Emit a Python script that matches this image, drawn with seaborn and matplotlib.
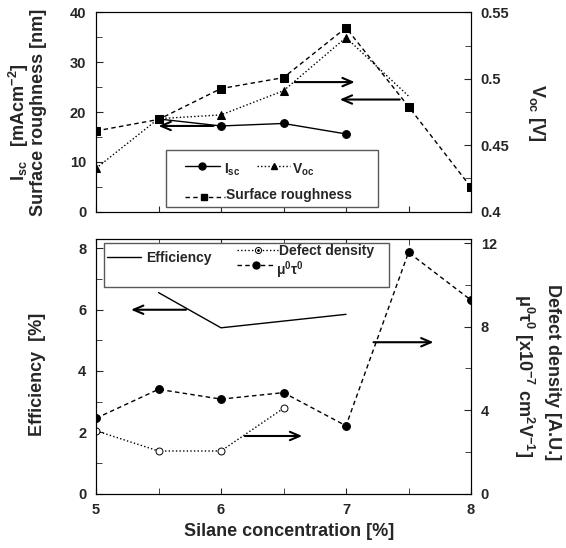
import numpy as np
import pandas as pd
import matplotlib
matplotlib.use("Agg")
import matplotlib.pyplot as plt
from matplotlib.lines import Line2D
from matplotlib.patches import Rectangle
from matplotlib.ticker import MultipleLocator
import seaborn as sns

# ---------------- data ----------------
silane = [5.0, 5.5, 6.0, 6.5, 7.0, 7.5, 8.0]

isc_x = [5.5, 6.0, 6.5, 7.0]
isc = [18.6, 17.2, 17.7, 15.6]                      # mA cm^-2

voc_x = [5.0, 5.5, 6.0, 6.5, 7.0, 7.5]
voc = [0.4326, 0.470, 0.4728, 0.491, 0.531, 0.487]  # V

rough_x = silane
roughness = [16.2, 18.5, 24.7, 26.9, 36.9, 21.1, 4.9]  # nm

eff_x = [5.5, 6.0, 7.0]
efficiency = [6.56, 5.41, 5.85]                      # %

defect_x = [5.0, 5.5, 6.0, 6.5]
defect = [3.01, 2.04, 2.04, 4.09]                    # A.U.

mutau_x = silane
mutau = [3.61, 5.0, 4.53, 4.84, 3.25, 11.57, 9.28]   # x1e-7 cm2/V

top_left_ticks = [0, 10, 20, 30, 40]
top_right_ticks = [0.4, 0.45, 0.5, 0.55]
bot_left_ticks = [0, 2, 4, 6, 8]
bot_right_ticks = [0, 4, 8, 12]
x_ticks = [5, 6, 7, 8]

# ---------------- style ----------------
sns.set_style("ticks")
plt.rcParams['font.family'] = ['Liberation Sans', 'DejaVu Sans']
plt.rcParams['font.weight'] = 'bold'
plt.rcParams['axes.labelweight'] = 'bold'
plt.rcParams['mathtext.fontset'] = 'custom'
plt.rcParams['mathtext.rm'] = 'Liberation Sans'
plt.rcParams['mathtext.bf'] = 'Liberation Sans:bold'
plt.rcParams['mathtext.it'] = 'Liberation Sans:italic'
plt.rcParams['mathtext.default'] = 'bf'
plt.rcParams['axes.edgecolor'] = 'black'
plt.rcParams['axes.linewidth'] = 0.8

TICKFS = 10.5
LABFS = 13
LEGFS = 10

fig = plt.figure(figsize=(5.66, 5.48), dpi=100)
L, W = 96 / 566, 375 / 566
ax1 = fig.add_axes([L, 1 - 211.7 / 548, W, 199.4 / 548])
ax2 = fig.add_axes([L, 1 - 493.5 / 548, W, 254.2 / 548])
ax1r = ax1.twinx()
ax2r = ax2.twinx()

DASH = (3.2, 2.4)
MS = 5.6

# ---------------- top panel ----------------
sns.lineplot(x=isc_x, y=isc, ax=ax1, color='k', lw=1.0, linestyle='-',
             marker='o', markersize=MS, markeredgecolor='k', markerfacecolor='k')
sns.lineplot(x=rough_x, y=roughness, ax=ax1, color='k', lw=1.0, linestyle=(0, DASH),
             marker='s', markersize=MS, markeredgecolor='k', markerfacecolor='k')
sns.lineplot(x=voc_x, y=voc, ax=ax1r, color='k', lw=1.0, linestyle=(0, (1, 1.6)),
             marker='^', markersize=MS, markeredgecolor='k', markerfacecolor='k',
             markevery=[0, 1, 2, 3, 4])

ax1.set_xlim(5, 8)
ax1.set_ylim(0, 40)
ax1r.set_ylim(0.4, 0.55)
ax1.set_yticks(top_left_ticks)
ax1.yaxis.set_minor_locator(MultipleLocator(5))
ax1r.set_yticks(top_right_ticks)
ax1r.set_yticklabels([f"{v:g}" for v in top_right_ticks])
ax1r.yaxis.set_minor_locator(MultipleLocator(0.025))
ax1.set_xticks(np.arange(5, 8.01, 0.5))
ax1.set_xticklabels([])

arrow_kw = dict(arrowstyle="->,head_length=0.7,head_width=0.3", lw=1.5, color='k',
                shrinkA=0, shrinkB=0)
ax1.annotate('', xy=(5.50, 17.2), xytext=(5.94, 17.2), arrowprops=arrow_kw)
ax1.annotate('', xy=(7.07, 26.0), xytext=(6.59, 26.0), arrowprops=arrow_kw)
ax1.annotate('', xy=(6.95, 22.5), xytext=(7.43, 22.5), arrowprops=arrow_kw)

# top legend (drawn in axes fraction)
t = ax1.transAxes
ax1.add_patch(Rectangle((0.186, 0.025), 0.751 - 0.186, 0.310 - 0.025, transform=t,
                        facecolor='white', edgecolor='0.35', lw=1.0, zorder=5))
ax1.add_line(Line2D([0.237, 0.331], [0.231, 0.231], transform=t, color='k', lw=1.0, zorder=6))
ax1.add_line(Line2D([0.282], [0.231], transform=t, color='k', marker='o', ms=MS - 0.6, zorder=6))
ax1.text(0.341, 0.193, r"I$_{\mathbf{sc}}$", transform=t, fontsize=LEGFS, va='baseline', zorder=7)
ax1.add_line(Line2D([0.428, 0.517], [0.231, 0.231], transform=t, color='k', lw=1.0,
                    linestyle=(0, (1, 1.6)), zorder=6))
ax1.add_line(Line2D([0.475], [0.231], transform=t, color='k', marker='^', ms=MS - 0.8, zorder=6))
ax1.text(0.522, 0.193, r"V$_{\mathbf{oc}}$", transform=t, fontsize=LEGFS, va='baseline', zorder=7)
ax1.add_line(Line2D([0.237, 0.344], [0.075, 0.075], transform=t, color='k', lw=1.0,
                    linestyle=(0, DASH), zorder=6))
ax1.add_line(Line2D([0.288], [0.075], transform=t, color='k', marker='s', ms=MS - 0.8, zorder=6))
ax1.text(0.348, 0.062, "Surface roughness", transform=t, fontsize=LEGFS, va='baseline', zorder=7)

# ---------------- bottom panel ----------------
sns.lineplot(x=eff_x, y=efficiency, ax=ax2, color='k', lw=1.0, linestyle='-')
sns.lineplot(x=defect_x, y=defect, ax=ax2r, color='k', lw=1.0, linestyle=(0, (1, 1.6)),
             marker='o', markersize=MS - 0.6, markeredgecolor='k', markerfacecolor='white',
             markeredgewidth=0.7)
sns.scatterplot(x=defect_x, y=defect, ax=ax2r, color='k', s=1.5, marker='o', linewidth=0)
sns.lineplot(x=mutau_x, y=mutau, ax=ax2r, color='k', lw=1.0, linestyle=(0, DASH),
             marker='o', markersize=MS, markeredgecolor='k', markerfacecolor='k')

ax2.set_xlim(5, 8)
ax2.set_ylim(0, 8.3)
ax2r.set_ylim(0, 12.2)
ax2.set_yticks(bot_left_ticks)
ax2.yaxis.set_minor_locator(MultipleLocator(1))
ax2r.set_yticks(bot_right_ticks)
ax2r.yaxis.set_minor_locator(MultipleLocator(2))
ax2.set_xticks(x_ticks)
ax2.xaxis.set_minor_locator(MultipleLocator(0.5))

ax2.annotate('', xy=(5.28, 6.0), xytext=(5.72, 6.0), arrowprops=arrow_kw)
ax2r.annotate('', xy=(6.65, 2.76), xytext=(6.19, 2.76), arrowprops=arrow_kw)
ax2r.annotate('', xy=(7.70, 7.26), xytext=(7.22, 7.26), arrowprops=arrow_kw)

t2 = ax2r.transAxes
ax2r.add_patch(Rectangle((0.021, 0.814), 0.781 - 0.021, 0.985 - 0.814, transform=t2,
                         facecolor='white', edgecolor='0.35', lw=1.0, zorder=5))
ax2r.add_line(Line2D([0.030, 0.119], [0.930, 0.930], transform=t2, color='k', lw=1.0, zorder=6))
ax2r.text(0.133, 0.911, "Efficiency", transform=t2, fontsize=LEGFS, va='baseline', zorder=7)
ax2r.add_line(Line2D([0.377, 0.484], [0.957, 0.957], transform=t2, color='k', lw=1.0,
                     linestyle=(0, (1, 1.6)), zorder=6))
ax2r.add_line(Line2D([0.431], [0.957], transform=t2, color='k', marker='o', ms=MS - 1.2,
                     mfc='white', mew=0.7, zorder=6))
ax2r.add_line(Line2D([0.431], [0.957], transform=t2, color='k', marker='o', ms=1.0, zorder=7))
ax2r.text(0.488, 0.937, "Defect density", transform=t2, fontsize=LEGFS, va='baseline', zorder=7)
ax2r.add_line(Line2D([0.377, 0.481], [0.898, 0.898], transform=t2, color='k', lw=1.0,
                     linestyle=(0, DASH), zorder=6))
ax2r.add_line(Line2D([0.426], [0.898], transform=t2, color='k', marker='o', ms=MS - 0.6, zorder=6))
ax2r.text(0.479, 0.858, r"$\mathrm{\mu^0\tau^0}$", transform=t2, fontsize=LEGFS,
          va='baseline', zorder=7)

# ---------------- ticks ----------------
for a in (ax1, ax2):
    a.tick_params(axis='both', which='both', direction='in', labelsize=TICKFS, pad=7)
    a.tick_params(axis='y', which='major', length=5)
    a.tick_params(axis='y', which='minor', length=4)
for a in (ax1r, ax2r):
    a.tick_params(axis='y', which='both', direction='in', labelsize=TICKFS, pad=7)
    a.tick_params(axis='y', which='major', length=5)
    a.tick_params(axis='y', which='minor', length=4)
ax1.tick_params(axis='x', which='major', length=4, bottom=True, top=False)
ax2.tick_params(axis='x', which='both', length=4, top=True, bottom=True, pad=7)
for a in (ax1, ax2, ax1r, ax2r):
    for lab in a.get_xticklabels() + a.get_yticklabels():
        lab.set_fontweight('bold')
    a.set_xlabel('')
    a.set_ylabel('')

# ---------------- axis titles ----------------
fig.text(19 / 566, 1 - 122 / 548, r"I$_{\mathbf{sc}}$   [mAcm$^{\mathbf{-2}}$]", rotation=90,
         ha='center', va='center', fontsize=LABFS)
fig.text(39 / 566, 1 - 112 / 548, "Surface roughness [nm]", rotation=90,
         ha='center', va='center', fontsize=LABFS)
fig.text(537 / 566, 1 - 113 / 548, r"V$_{\mathbf{oc}}$ [V]", rotation=270,
         ha='center', va='center', fontsize=LABFS)
fig.text(38 / 566, 1 - 374 / 548, "Efficiency  [%]", rotation=90,
         ha='center', va='center', fontsize=LABFS)
fig.text(553 / 566, 1 - 372 / 548, "Defect density [A.U.]", rotation=270,
         ha='center', va='center', fontsize=LABFS)
fig.text(524 / 566, 1 - 376 / 548,
         r"$\mathrm{\mu^0\tau^0}$ [x10$^{\mathbf{-7}}$ cm$^{\mathbf{2}}$V$^{\mathbf{-1}}$]",
         rotation=270, ha='center', va='center', fontsize=LABFS)
fig.text(289 / 566, 1 - 531 / 548, "Silane concentration [%]",
         ha='center', va='center', fontsize=LABFS)

fig.savefig("out.png", dpi=100, facecolor='white')
